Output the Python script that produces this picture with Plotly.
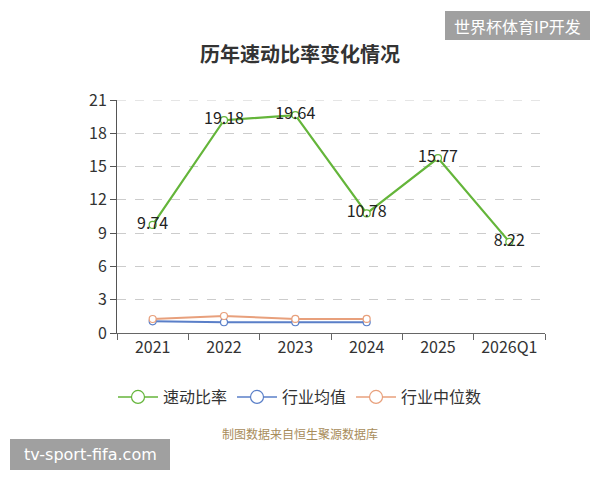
import plotly.graph_objects as go

categories = ["2021", "2022", "2023", "2024", "2025", "2026Q1"]
quick_ratio = [9.74, 19.18, 19.64, 10.78, 15.77, 8.22]
industry_avg = [1.05, 0.97, 0.97, 0.97, None, None]
industry_median = [1.26, 1.53, 1.27, 1.27, None, None]
y_ticks = [0, 3, 6, 9, 12, 15, 18, 21]
series_names = ["速动比率", "行业均值", "行业中位数"]

FONT = "Noto Sans CJK SC"
GREEN = "#64b53a"
BLUE = "#5a7fc8"
ORANGE = "#e8a07c"

fig = go.Figure()
fig.add_trace(go.Scatter(
    x=categories, y=quick_ratio, name=series_names[0], mode="lines+markers+text",
    line=dict(color=GREEN, width=2.2), showlegend=False,
    marker=dict(symbol="circle", size=7, color="white", line=dict(color=GREEN, width=1.2)),
    text=[f"{v:.2f}" for v in quick_ratio], textposition="middle center",
    textfont=dict(family=FONT, size=16, color="#222"),
))
fig.add_trace(go.Scatter(
    x=categories, y=industry_avg, name=series_names[1], mode="lines+markers",
    line=dict(color=BLUE, width=2), showlegend=False,
    marker=dict(symbol="circle", size=7, color="white", line=dict(color=BLUE, width=1.2)),
))
fig.add_trace(go.Scatter(
    x=categories, y=industry_median, name=series_names[2], mode="lines+markers",
    line=dict(color=ORANGE, width=2), showlegend=False,
    marker=dict(symbol="circle", size=7, color="white", line=dict(color=ORANGE, width=1.2)),
))
# legend entries with larger symbols
for nm, c in zip(series_names, [GREEN, BLUE, ORANGE]):
    fig.add_trace(go.Scatter(
        x=[None], y=[None], name=nm, mode="lines+markers",
        line=dict(color=c, width=1.5),
        marker=dict(symbol="circle", size=13, color="white", line=dict(color=c, width=1.2)),
    ))

# top gridline at the max tick
fig.add_shape(type="line", xref="paper", yref="y", x0=0, x1=1,
              y0=y_ticks[-1], y1=y_ticks[-1],
              line=dict(color="#cccccc", width=1, dash="dash"), layer="below")

fig.update_layout(
    width=600, height=480,
    margin=dict(l=117, r=55, t=100, b=147),
    paper_bgcolor="white", plot_bgcolor="white",
    font=dict(family=FONT, color="#333"),
    title=dict(text="<b>历年速动比率变化情况</b>", x=0.5, xanchor="center",
               y=1 - 55 / 480, yanchor="middle",
               font=dict(family=FONT, size=20, color="#333")),
    showlegend=True,
    legend=dict(orientation="h", x=(300 - 117) / 428, xanchor="center",
                y=-(397 - 333) / 233, yanchor="middle",
                font=dict(family=FONT, size=16, color="#333"),
                itemwidth=40, tracegroupgap=0),
    xaxis=dict(
        type="category", range=[-0.5, 5.5], tickson="boundaries",
        showline=True, linecolor="#666", linewidth=1,
        ticks="outside", ticklen=6, tickcolor="#666",
        showgrid=False, zeroline=False,
        tickfont=dict(family=FONT, size=16, color="#333"),
    ),
    yaxis=dict(
        range=[0, 21], tickmode="array", tickvals=y_ticks,
        showline=True, linecolor="#555", linewidth=1,
        ticks="outside", ticklen=6, tickcolor="#555",
        showgrid=True, gridcolor="#cccccc", griddash="dash", gridwidth=1,
        zeroline=False,
        tickfont=dict(family=FONT, size=16, color="#333"),
    ),
)

fig.add_annotation(
    text="制图数据来自恒生聚源数据库", xref="paper", yref="paper",
    x=(300 - 117) / 428, y=-(433 - 333) / 233, xanchor="center", yanchor="middle",
    showarrow=False, font=dict(family=FONT, size=12, color="#a88c5a"),
)

# watermark boxes
fig.add_shape(type="rect", xref="paper", yref="paper",
              x0=(445 - 117) / 428, x1=(590 - 117) / 428,
              y0=(333 - 40) / 233, y1=(333 - 11) / 233,
              fillcolor="#a0a0a0", line=dict(width=0), layer="above")
fig.add_annotation(
    text="世界杯体育IP开发", xref="paper", yref="paper",
    x=(517.5 - 117) / 428, y=(333 - 25.5) / 233, xanchor="center", yanchor="middle",
    showarrow=False, font=dict(family=FONT, size=16, color="white"),
)
fig.add_shape(type="rect", xref="paper", yref="paper",
              x0=(10 - 117) / 428, x1=(170 - 117) / 428,
              y0=(333 - 470) / 233, y1=(333 - 439) / 233,
              fillcolor="#a0a0a0", line=dict(width=0), layer="above")
fig.add_annotation(
    text="tv-sport-fifa.com", xref="paper", yref="paper",
    x=(90 - 117) / 428, y=(333 - 454.5) / 233, xanchor="center", yanchor="middle",
    showarrow=False, font=dict(family="DejaVu Sans", size=16, color="white"),
)

fig.write_html("out.html")
